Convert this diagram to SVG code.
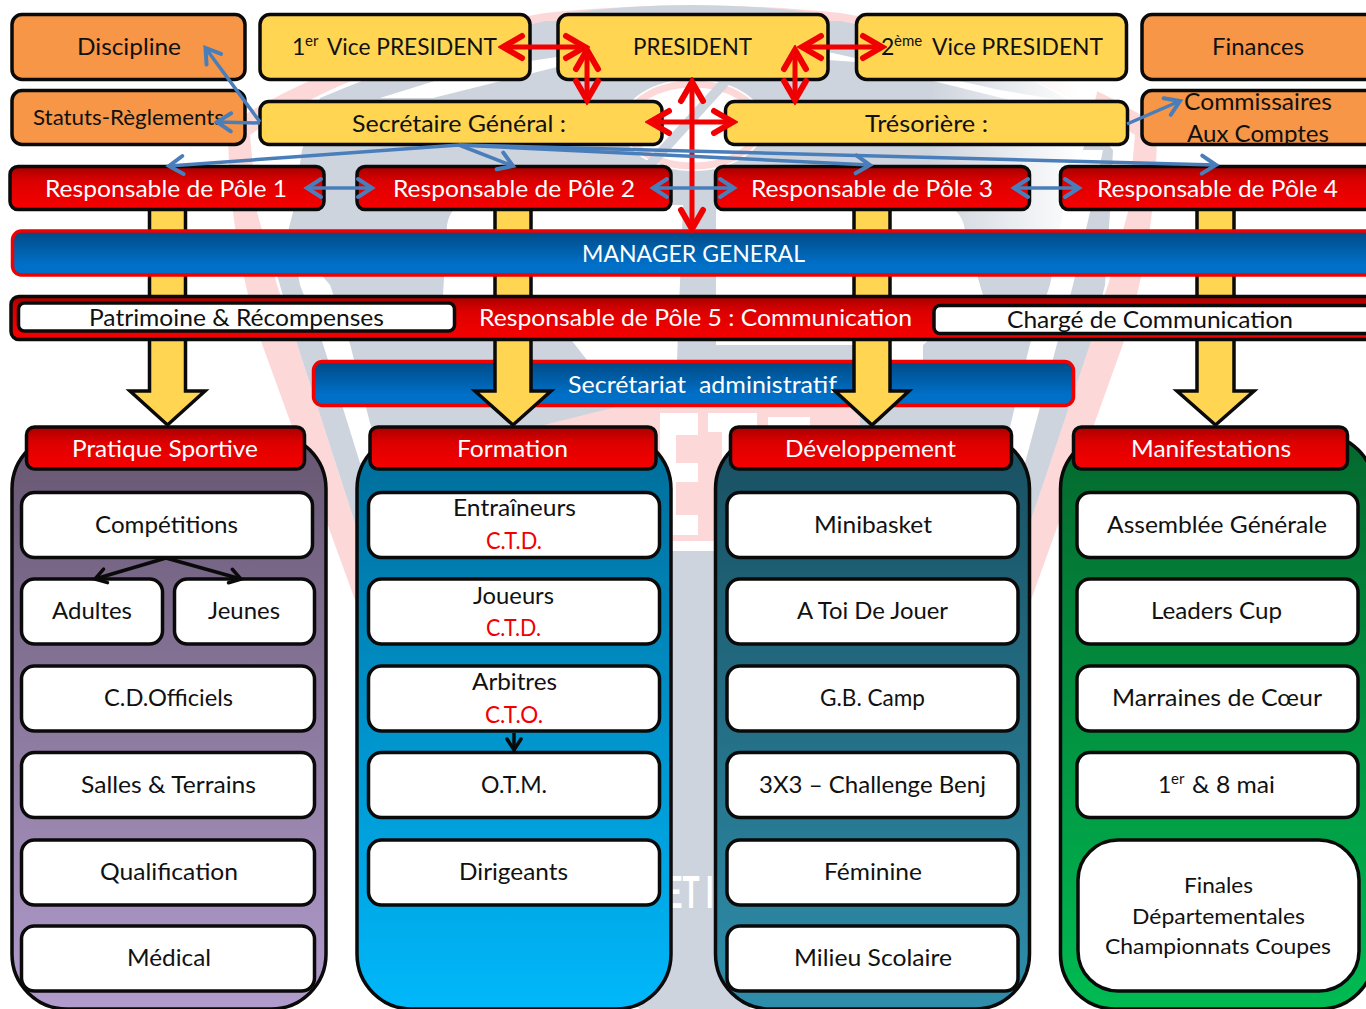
<svg xmlns="http://www.w3.org/2000/svg" width="1366" height="1009" viewBox="0 0 1366 1009">
<style>
text{font-family:"Lato","Liberation Sans",sans-serif;font-size:23px;fill:#111}
.w{fill:#fff}.r{fill:#f00000}.s{font-size:21px}
.wm{font-weight:700;fill:#fff;font-size:44px}
.k{stroke:#0a0a0a;stroke-width:3.5}
.box{fill:#fff;stroke:#0a0a0a;stroke-width:3.5}
.yel{fill:#ffd552;stroke:#0a0a0a;stroke-width:3.5}
.ora{fill:#f79646;stroke:#0a0a0a;stroke-width:3.5}
.red{fill:url(#gr);stroke:#0a0a0a;stroke-width:3.5}
.blu{fill:url(#gb);stroke:#f00000;stroke-width:3.5}
.ba{fill:#ffd552;stroke:#0a0a0a;stroke-width:3.5;stroke-linejoin:miter}
.c-r{fill:none;stroke:#f00000;stroke-width:5;marker-start:url(#mr);marker-end:url(#mr)}
.c-b{fill:none;stroke:#4a7ebb;stroke-width:3.5;marker-end:url(#mb)}
.c-bb{fill:none;stroke:#4a7ebb;stroke-width:3.5;marker-start:url(#mb);marker-end:url(#mb)}
.c-k{fill:none;stroke:#0a0a0a;stroke-width:3.5;marker-end:url(#mk)}
.pk{fill:#fdd8d9}.gy{fill:#ced4dd}.wh{fill:#fff}
</style>
<defs>
<linearGradient id="gr" x1="0" y1="0" x2="0" y2="1"><stop offset="0" stop-color="#a80000"/><stop offset=".35" stop-color="#dc0000"/><stop offset="1" stop-color="#f80000"/></linearGradient>
<linearGradient id="gb" x1="0" y1="0" x2="0" y2="1"><stop offset="0" stop-color="#004a84"/><stop offset=".75" stop-color="#006fc7"/><stop offset="1" stop-color="#0070c9"/></linearGradient>
<linearGradient id="c1" x1="0" y1="0" x2="0" y2="1"><stop offset="0" stop-color="#665670"/><stop offset="1" stop-color="#b19ccc"/></linearGradient>
<linearGradient id="c2" x1="0" y1="0" x2="0" y2="1"><stop offset="0" stop-color="#006c98"/><stop offset="1" stop-color="#00b8fb"/></linearGradient>
<linearGradient id="c3" x1="0" y1="0" x2="0" y2="1"><stop offset="0" stop-color="#184f60"/><stop offset="1" stop-color="#2f8eab"/></linearGradient>
<linearGradient id="c4" x1="0" y1="0" x2="0" y2="1"><stop offset="0" stop-color="#04682e"/><stop offset="1" stop-color="#00bb52"/></linearGradient>
<linearGradient id="fade" gradientUnits="userSpaceOnUse" x1="930" y1="0" x2="1080" y2="0"><stop offset="0" stop-color="#fff" stop-opacity="0"/><stop offset="1" stop-color="#fff"/></linearGradient>
<marker id="mr" markerUnits="userSpaceOnUse" markerWidth="30" markerHeight="32" viewBox="-25 -16 30 32" orient="auto-start-reverse" refX="0" refY="0"><path d="M-19,-11 L0,0 L-19,11" fill="none" stroke="#f00000" stroke-width="6" stroke-linecap="round"/></marker>
<marker id="mb" markerUnits="userSpaceOnUse" markerWidth="22" markerHeight="26" viewBox="-18 -13 22 26" orient="auto-start-reverse" refX="0" refY="0"><path d="M-14,-9 L0,0 L-14,9" fill="none" stroke="#4a7ebb" stroke-width="4" stroke-linecap="round"/></marker>
<marker id="mk" markerUnits="userSpaceOnUse" markerWidth="20" markerHeight="22" viewBox="-16 -11 20 22" orient="auto" refX="0" refY="0"><path d="M-11,-7 L0,0 L-11,7" fill="none" stroke="#0a0a0a" stroke-width="3.5" stroke-linecap="round"/></marker>
</defs>

<rect width="1366" height="1009" fill="#fff"/>
<g id="watermark">
<path class="pk" d="M228 125C320 65 440 30 545 13C640 3 745 3 840 13C945 30 1065 65 1157 125C1157 220 1140 290 1123 344L1031 600L1000 680H385L355 600L262 344C245 290 228 220 228 125Z"/>
<path class="wh" d="M250 135C330 80 440 45 545 22H840C945 45 1055 80 1135 135L1128 212L1108 285L1088 344L1032 517H353L297 344L277 285L257 212Z"/>
<path class="gy" d="M302 150L320 98C400 65 470 38 545 21H840C930 38 1010 65 1065 98L1113 150L1110 212L1105 285L1090 344L1032 517L985 650L885 900L745 1009H640L500 900L400 650L353 517L297 344L277 275L293 212Z"/>
<path class="gy" d="M560 14Q693 -4 825 14Z"/>
<path class="wh" d="M292 240L330 285L350 344L370 423L388 470L360 463L323 344L300 285Z"/>
<path class="wh" d="M1083 150H1103L1090 212L1073 285L1057 344L1025 463L997 470L1010 427L1030 344L1050 285L1063 212Z"/>
<path class="wh" d="M380 98L433 98L557 67V57L470 70Z"/>
<path class="wh" d="M828 52L1000 90L1060 100H1010L856 62L828 60Z"/>
<path fill="url(#fade)" d="M930 80H1100L1083 150L1063 230H930Z"/>
<path class="wh" d="M462 205H683L677 360H587L540 300L443 295L447 225Q450 208 462 205Z"/>
<path class="wh" d="M716 205H945Q965 212 965 235L983 295L923 345V360H890V345H716Z"/>
<path class="gy" d="M683 205H713V345H683Z"/>
<ellipse cx="693" cy="125" rx="72" ry="46" class="wh"/>
<ellipse cx="693" cy="125" rx="66" ry="41" fill="none" stroke="#fdd8d9" stroke-width="7"/>
<path d="M645 170L725 82" stroke="#ced4dd" stroke-width="10" fill="none"/>
<path class="pk" d="M540 426L620 406H860V426Z"/>
<rect class="pk" x="640" y="408" width="110" height="133"/>
<rect class="wh" x="640" y="541" width="110" height="10"/>
<rect class="gy" x="640" y="551" width="110" height="458"/>
<g class="wh">
<rect x="660" y="413" width="16" height="122"/><rect x="660" y="413" width="38" height="22"/><rect x="675" y="463" width="23" height="19"/><rect x="675" y="515" width="23" height="20"/>
<rect x="708" y="413" width="49" height="19"/><rect x="722" y="432" width="24" height="100"/><rect x="768" y="417" width="42" height="10"/>
</g>
<text class="wm" x="666" y="908" textLength="48" lengthAdjust="spacingAndGlyphs">ET I</text>
</g>

<g id="secretariat"><rect class="blu" x="313.500" y="361.500" width="760" height="44" rx="9"/><text class="w" x="568" y="393" textLength="269" lengthAdjust="spacingAndGlyphs" style="white-space:pre">Secrétariat  administratif</text></g>

<g id="column-bodies">
<rect x="12" y="434" width="314" height="575" rx="55" fill="url(#c1)" class="k"/>
<rect x="357" y="434" width="314" height="575" rx="55" fill="url(#c2)" class="k"/>
<rect x="715.500" y="434" width="314" height="575" rx="55" fill="url(#c3)" class="k"/>
<rect x="1060.500" y="434" width="314" height="575" rx="55" fill="url(#c4)" class="k"/>
</g>

<g id="block-arrows">
<polygon class="ba" points="149.500,205 185.500,205 185.500,391 205,391 167.500,425 130,391 149.500,391"/>
<polygon class="ba" points="495,205 531,205 531,391 551,391 513,425 475,391 495,391"/>
<polygon class="ba" points="854,205 890,205 890,391 909,391 872,425 835,391 854,391"/>
<polygon class="ba" points="1197,205 1234,205 1234,391 1254,391 1215.500,425 1177,391 1197,391"/>
</g>

<g id="discipline"><rect class="ora" x="12" y="14.500" width="233" height="65" rx="10"/><text x="77" y="55" textLength="104" lengthAdjust="spacingAndGlyphs">Discipline</text></g>
<g id="statuts"><rect class="ora" x="12" y="90.500" width="233" height="54" rx="10"/><text class="s" x="33" y="125" textLength="191" lengthAdjust="spacingAndGlyphs">Statuts-Règlements</text></g>
<g id="vice1"><rect class="yel" x="260" y="14.500" width="270" height="65" rx="10"/><text x="292" y="55"><tspan>1</tspan><tspan x="305" dy="-9" style="font-size:15px">er</tspan><tspan x="327" dy="9" textLength="170" lengthAdjust="spacingAndGlyphs">Vice PRESIDENT</tspan></text></g>
<g id="president"><rect class="yel" x="558" y="14.500" width="270" height="65" rx="10"/><text x="633" y="55" textLength="119" lengthAdjust="spacingAndGlyphs">PRESIDENT</text></g>
<g id="vice2"><rect class="yel" x="856.500" y="14.500" width="270" height="65" rx="10"/><text x="881" y="55"><tspan>2</tspan><tspan x="894" dy="-9" style="font-size:15px">ème</tspan><tspan x="932" dy="9" textLength="171" lengthAdjust="spacingAndGlyphs">Vice PRESIDENT</tspan></text></g>
<g id="finances"><rect class="ora" x="1142" y="14.500" width="260" height="65" rx="10"/><text x="1212" y="55" textLength="92" lengthAdjust="spacingAndGlyphs">Finances</text></g>
<g id="secretaire"><rect class="yel" x="260" y="101.500" width="402" height="43" rx="9"/><text x="352" y="132" textLength="214" lengthAdjust="spacingAndGlyphs">Secrétaire Général :</text></g>
<g id="tresoriere"><rect class="yel" x="725.500" y="101.500" width="402" height="43" rx="9"/><text x="865" y="132" textLength="123" lengthAdjust="spacingAndGlyphs">Trésorière :</text></g>
<g id="commissaires"><rect class="ora" x="1142" y="90.500" width="260" height="54" rx="10"/><text x="1184" y="110" textLength="148" lengthAdjust="spacingAndGlyphs">Commissaires</text><text x="1187" y="142" textLength="142" lengthAdjust="spacingAndGlyphs">Aux Comptes</text></g>

<g id="pole1"><rect class="red" x="10" y="166.500" width="314" height="43" rx="8"/><text class="w" x="45" y="197" textLength="242" lengthAdjust="spacingAndGlyphs">Responsable de Pôle 1</text></g>
<g id="pole2"><rect class="red" x="357" y="166.500" width="314" height="43" rx="8"/><text class="w" x="393" y="197" textLength="242" lengthAdjust="spacingAndGlyphs">Responsable de Pôle 2</text></g>
<g id="pole3"><rect class="red" x="715.500" y="166.500" width="314" height="43" rx="8"/><text class="w" x="751" y="197" textLength="242" lengthAdjust="spacingAndGlyphs">Responsable de Pôle 3</text></g>
<g id="pole4"><rect class="red" x="1060.500" y="166.500" width="330" height="43" rx="8"/><text class="w" x="1097" y="197" textLength="241" lengthAdjust="spacingAndGlyphs">Responsable de Pôle 4</text></g>
<g id="manager"><rect class="blu" x="12.500" y="231" width="1380" height="44" rx="9"/><text class="w" x="582" y="262" textLength="223" lengthAdjust="spacingAndGlyphs">MANAGER GENERAL</text></g>
<g id="pole5"><rect class="red" x="11" y="296.500" width="1380" height="43" rx="8"/><text class="w" x="479" y="326" textLength="433" lengthAdjust="spacingAndGlyphs">Responsable de Pôle 5 : Communication</text></g>
<g id="patrimoine"><rect class="box" x="18.500" y="303" width="436" height="28" rx="6"/><text x="89" y="326" textLength="295" lengthAdjust="spacingAndGlyphs">Patrimoine &amp; Récompenses</text></g>
<g id="charge"><rect class="box" x="934" y="305.500" width="440" height="28" rx="6"/><text x="1007" y="328" textLength="286" lengthAdjust="spacingAndGlyphs">Chargé de Communication</text></g>

<g id="h-pratique"><rect class="red" x="26.500" y="427" width="278" height="42" rx="8"/><text class="w" x="72" y="457" textLength="186" lengthAdjust="spacingAndGlyphs">Pratique Sportive</text></g>
<g id="h-formation"><rect class="red" x="370" y="427" width="286" height="42" rx="8"/><text class="w" x="457" y="457" textLength="111" lengthAdjust="spacingAndGlyphs">Formation</text></g>
<g id="h-developpement"><rect class="red" x="730.500" y="427" width="281" height="42" rx="8"/><text class="w" x="785" y="457" textLength="171" lengthAdjust="spacingAndGlyphs">Développement</text></g>
<g id="h-manifestations"><rect class="red" x="1073.500" y="427" width="274" height="42" rx="8"/><text class="w" x="1131" y="457" textLength="160" lengthAdjust="spacingAndGlyphs">Manifestations</text></g>

<g id="competitions"><rect class="box" x="21.500" y="492.500" width="291" height="65" rx="13"/><text x="95" y="533" textLength="143" lengthAdjust="spacingAndGlyphs">Compétitions</text></g>
<g id="adultes"><rect class="box" x="21.500" y="579" width="141" height="65" rx="13"/><text x="52" y="619" textLength="80" lengthAdjust="spacingAndGlyphs">Adultes</text></g>
<g id="jeunes"><rect class="box" x="174.500" y="579" width="140" height="65" rx="13"/><text x="208" y="619" textLength="72" lengthAdjust="spacingAndGlyphs">Jeunes</text></g>
<g id="officiels"><rect class="box" x="21.500" y="666" width="293" height="65" rx="13"/><text x="104" y="706" textLength="129" lengthAdjust="spacingAndGlyphs">C.D.Officiels</text></g>
<g id="salles"><rect class="box" x="21.500" y="752.500" width="293" height="65" rx="13"/><text x="81" y="793" textLength="175" lengthAdjust="spacingAndGlyphs">Salles &amp; Terrains</text></g>
<g id="qualification"><rect class="box" x="21.500" y="840" width="293" height="65" rx="13"/><text x="100" y="880" textLength="138" lengthAdjust="spacingAndGlyphs">Qualification</text></g>
<g id="medical"><rect class="box" x="21.500" y="926" width="293" height="65" rx="13"/><text x="127" y="966" textLength="84" lengthAdjust="spacingAndGlyphs">Médical</text></g>

<g id="entraineurs"><rect class="box" x="368.500" y="492.500" width="291" height="65" rx="13"/><text x="453" y="516" textLength="123" lengthAdjust="spacingAndGlyphs">Entraîneurs</text><text class="r" x="486" y="549" textLength="56" lengthAdjust="spacingAndGlyphs">C.T.D.</text></g>
<g id="joueurs"><rect class="box" x="368.500" y="579" width="291" height="65" rx="13"/><text x="473" y="604" textLength="81" lengthAdjust="spacingAndGlyphs">Joueurs</text><text class="r" x="486" y="636" textLength="55" lengthAdjust="spacingAndGlyphs">C.T.D.</text></g>
<g id="arbitres"><rect class="box" x="368.500" y="666" width="291" height="65" rx="13"/><text x="472" y="690" textLength="85" lengthAdjust="spacingAndGlyphs">Arbitres</text><text class="r" x="485" y="723" textLength="58" lengthAdjust="spacingAndGlyphs">C.T.O.</text></g>
<g id="otm"><rect class="box" x="368.500" y="752.500" width="291" height="65" rx="13"/><text x="481" y="793" textLength="66" lengthAdjust="spacingAndGlyphs">O.T.M.</text></g>
<g id="dirigeants"><rect class="box" x="368.500" y="840" width="291" height="65" rx="13"/><text x="459" y="880" textLength="109" lengthAdjust="spacingAndGlyphs">Dirigeants</text></g>

<g id="minibasket"><rect class="box" x="727" y="492.500" width="291" height="65" rx="13"/><text x="814" y="533" textLength="118" lengthAdjust="spacingAndGlyphs">Minibasket</text></g>
<g id="atoi"><rect class="box" x="727" y="579" width="291" height="65" rx="13"/><text x="797" y="619" textLength="151" lengthAdjust="spacingAndGlyphs">A Toi De Jouer</text></g>
<g id="gbcamp"><rect class="box" x="727" y="666" width="291" height="65" rx="13"/><text x="820" y="706" textLength="105" lengthAdjust="spacingAndGlyphs">G.B. Camp</text></g>
<g id="challenge"><rect class="box" x="727" y="752.500" width="291" height="65" rx="13"/><text x="759" y="793" textLength="227" lengthAdjust="spacingAndGlyphs">3X3 – Challenge Benj</text></g>
<g id="feminine"><rect class="box" x="727" y="840" width="291" height="65" rx="13"/><text x="824" y="880" textLength="98" lengthAdjust="spacingAndGlyphs">Féminine</text></g>
<g id="scolaire"><rect class="box" x="727" y="926" width="291" height="65" rx="13"/><text x="794" y="966" textLength="158" lengthAdjust="spacingAndGlyphs">Milieu Scolaire</text></g>

<g id="assemblee"><rect class="box" x="1077" y="492.500" width="281" height="65" rx="13"/><text x="1107" y="533" textLength="220" lengthAdjust="spacingAndGlyphs">Assemblée Générale</text></g>
<g id="leaders"><rect class="box" x="1077" y="579" width="281" height="65" rx="13"/><text x="1151" y="619" textLength="131" lengthAdjust="spacingAndGlyphs">Leaders Cup</text></g>
<g id="marraines"><rect class="box" x="1077" y="666" width="281" height="65" rx="13"/><text x="1112" y="706" textLength="210" lengthAdjust="spacingAndGlyphs">Marraines de Cœur</text></g>
<g id="mai"><rect class="box" x="1077" y="752.500" width="281" height="65" rx="13"/><text x="1158" y="793"><tspan>1</tspan><tspan x="1171" dy="-9" style="font-size:15px">er</tspan><tspan x="1192" dy="9" textLength="83" lengthAdjust="spacingAndGlyphs">&amp; 8 mai</tspan></text></g>
<g id="finales"><rect class="box" x="1078" y="840" width="281" height="151" rx="40"/><text x="1184" y="893" style="font-size:22px" textLength="69" lengthAdjust="spacingAndGlyphs">Finales</text><text x="1132" y="924" style="font-size:22px" textLength="173" lengthAdjust="spacingAndGlyphs">Départementales</text><text x="1105" y="954" style="font-size:22px" textLength="226" lengthAdjust="spacingAndGlyphs">Championnats Coupes</text></g>

<g id="connectors">
<line class="c-r" x1="503" y1="47" x2="585" y2="47"/>
<line class="c-r" x1="587" y1="50" x2="587" y2="100"/>
<line class="c-r" x1="802" y1="47" x2="882" y2="47"/>
<line class="c-r" x1="795" y1="50" x2="795" y2="100"/>
<line class="c-r" x1="650" y1="122" x2="733" y2="122"/>
<line class="c-r" x1="692" y1="82" x2="692" y2="229"/>
<line class="c-b" x1="260" y1="122" x2="205.500" y2="48"/>
<line class="c-b" x1="260" y1="123" x2="217" y2="122"/>
<line class="c-b" x1="1127" y1="124" x2="1180" y2="101"/>
<line class="c-b" x1="459" y1="145" x2="169" y2="166"/>
<line class="c-b" x1="459" y1="145" x2="513" y2="166"/>
<line class="c-b" x1="459" y1="145" x2="870" y2="165"/>
<line class="c-b" x1="459" y1="145" x2="1216" y2="165"/>
<line class="c-bb" x1="307" y1="188" x2="372" y2="188"/>
<line class="c-bb" x1="653" y1="188" x2="734" y2="188"/>
<line class="c-bb" x1="1014" y1="188" x2="1079" y2="188"/>
<line class="c-k" x1="166" y1="558" x2="95" y2="579"/>
<line class="c-k" x1="166" y1="558" x2="241" y2="579"/>
<line class="c-k" x1="514" y1="733" x2="514" y2="750"/>
</g>
</svg>
